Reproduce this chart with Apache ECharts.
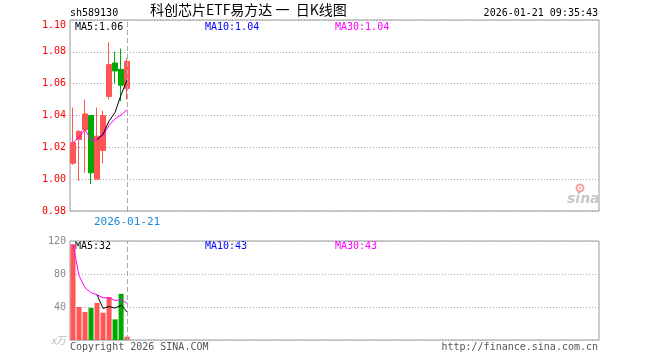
<!DOCTYPE html>
<html>
<head>
<meta charset="utf-8">
<script src="https://cdn.jsdelivr.net/npm/echarts@6/dist/echarts.min.js"></script>
<style>html,body{margin:0;padding:0;background:#fff;}#c{width:660px;height:360px;}</style>
</head>
<body>
<div id="c"></div>
<script>
// ---- data ----
const dates  = ['2026-01-08','2026-01-09','2026-01-12','2026-01-13','2026-01-14','2026-01-15','2026-01-16','2026-01-19','2026-01-20','2026-01-21'];
const opens  = [1.010, 1.025, 1.031, 1.040, 1.000, 1.018, 1.052, 1.073, 1.069, 1.057];
const closes = [1.023, 1.030, 1.041, 1.004, 1.027, 1.040, 1.072, 1.068, 1.059, 1.074];
const lows   = [1.009, 0.999, 1.004, 0.997, 1.000, 1.010, 1.050, 1.060, 1.049, 1.050];
const highs  = [1.045, 1.031, 1.050, 1.040, 1.045, 1.043, 1.086, 1.080, 1.082, 1.076];
const priceMA5  = [null, null, null, null, 1.0249, 1.0283, 1.0366, 1.0420, 1.0530, 1.0624];
const priceMA30 = [1.0230, 1.0265, 1.0313, 1.0245, 1.0249, 1.0274, 1.0338, 1.0380, 1.0403, 1.0436];
const volumes = [116, 40, 34, 39, 45, 33, 52, 25, 56, 4];
const volMA5  = [null, null, null, null, 54.8, 38.3, 40.6, 38.7, 42.1, 34.0];
const volMA30 = [116, 78, 63.4, 57.3, 54.8, 51.1, 51.2, 47.9, 48.8, 44.4];
const priceTicks = { min: 0.98, max: 1.10, interval: 0.02 };
const volTicks = { min: 0, max: 120, interval: 40 };
const priceLegend = ['MA5:1.06', 'MA10:1.04', 'MA30:1.04'];
const volLegend = ['MA5:32', 'MA10:43', 'MA30:43'];
const slotCount = 88;

// ---- chart ----
const RED = '#ff5555', GREEN = '#00a800';
const MONO = '"DejaVu Sans Mono", "Liberation Mono", monospace';
const lastDate = dates[dates.length - 1];
const cats = dates.concat(Array.from({length: slotCount - dates.length}, (_, i) => '_' + i));
const kData = dates.map((d, i) => [opens[i], closes[i], lows[i], highs[i]]);
const volData = volumes.map((v, i) => ({
  value: v,
  itemStyle: { color: closes[i] >= opens[i] ? RED : GREEN }
}));

const chart = echarts.init(document.getElementById('c'), null, { renderer: 'canvas' });

const cursorLine = {
  silent: true,
  symbol: ['none', 'none'],
  label: { show: false },
  lineStyle: { color: '#aaa', type: [5, 3], width: 1 },
  data: [{ xAxis: lastDate }]
};

const gridBase = { left: 70, right: 61, show: true, borderColor: '#999', borderWidth: 1, backgroundColor: 'transparent' };

chart.setOption({
  animation: false,
  backgroundColor: '#fff',
  grid: [
    Object.assign({ top: 20, height: 191 }, gridBase),
    Object.assign({ top: 241, height: 99 }, gridBase)
  ],
  xAxis: [
    {
      type: 'category', gridIndex: 0, data: cats, boundaryGap: true,
      axisLine: { show: false },
      axisTick: { show: true, inside: true, length: 3, alignWithLabel: true,
        interval: (i, v) => v === lastDate, lineStyle: { color: '#999' } },
      axisLabel: { show: true, interval: (i, v) => v === lastDate,
        color: '#1a8ad6', fontFamily: MONO, fontSize: 11, margin: 6 },
      splitLine: { show: false }
    },
    {
      type: 'category', gridIndex: 1, data: cats, boundaryGap: true,
      axisLine: { show: false }, axisTick: { show: false }, axisLabel: { show: false },
      splitLine: { show: false }
    }
  ],
  yAxis: [
    {
      type: 'value', gridIndex: 0, min: priceTicks.min, max: priceTicks.max, interval: priceTicks.interval,
      axisLine: { show: false }, axisTick: { show: false },
      axisLabel: { color: '#ff0000', fontFamily: MONO, fontSize: 10, margin: 4,
        formatter: v => v.toFixed(2), verticalAlignMaxLabel: 'top' },
      splitLine: { show: true, lineStyle: { color: '#aaa', type: [1, 2], width: 1 } }
    },
    {
      type: 'value', gridIndex: 1, min: volTicks.min, max: volTicks.max, interval: volTicks.interval,
      axisLine: { show: false }, axisTick: { show: false },
      axisLabel: { color: '#888', fontFamily: MONO, fontSize: 10, margin: 4,
        formatter: v => v === 0 ? '{u|x万}' : String(v),
        rich: { u: { color: '#bbb', fontFamily: '"Noto Sans CJK SC", sans-serif', fontSize: 10, fontStyle: 'italic' } } },
      splitLine: { show: true, lineStyle: { color: '#aaa', type: [1, 2], width: 1 } }
    }
  ],
  series: [
    {
      type: 'candlestick', xAxisIndex: 0, yAxisIndex: 0, data: kData, barWidth: 5,
      itemStyle: { color: RED, color0: GREEN, borderColor: RED, borderColor0: GREEN, borderWidth: 1 },
      markLine: cursorLine
    },
    {
      type: 'line', xAxisIndex: 0, yAxisIndex: 0, data: priceMA30, showSymbol: false, symbol: 'none',
      lineStyle: { color: '#ff00ff', width: 1 }, z: 3
    },
    {
      type: 'line', xAxisIndex: 0, yAxisIndex: 0, data: priceMA5, showSymbol: false, symbol: 'none',
      lineStyle: { color: '#000', width: 1 }, z: 4
    },
    {
      type: 'bar', xAxisIndex: 1, yAxisIndex: 1, data: volData, barWidth: 5,
      markLine: cursorLine
    },
    {
      type: 'line', xAxisIndex: 1, yAxisIndex: 1, data: volMA30, showSymbol: false, symbol: 'none',
      lineStyle: { color: '#ff00ff', width: 1 }, z: 3
    },
    {
      type: 'line', xAxisIndex: 1, yAxisIndex: 1, data: volMA5, showSymbol: false, symbol: 'none',
      lineStyle: { color: '#000', width: 1 }, z: 4
    }
  ],
  graphic: [
    { type: 'text', left: 70, top: 8, style: { text: 'sh589130', fill: '#000', font: '10px ' + MONO } },
    { type: 'text', left: 150, top: 3, style: { text: '科创芯片ETF易方达 一  日K线图', fill: '#000', font: '14px "Noto Sans CJK SC", sans-serif' } },
    { type: 'text', right: 62, top: 8, style: { text: '2026-01-21 09:35:43', fill: '#000', font: '10px ' + MONO, textAlign: 'right' } },
    { type: 'text', left: 75, top: 22, style: { text: priceLegend[0], fill: '#000', font: '10px ' + MONO } },
    { type: 'text', left: 205, top: 22, style: { text: priceLegend[1], fill: '#0000ff', font: '10px ' + MONO } },
    { type: 'text', left: 335, top: 22, style: { text: priceLegend[2], fill: '#ff00ff', font: '10px ' + MONO } },
    { type: 'text', left: 75, top: 241, style: { text: volLegend[0], fill: '#000', font: '10px ' + MONO } },
    { type: 'text', left: 205, top: 241, style: { text: volLegend[1], fill: '#0000ff', font: '10px ' + MONO } },
    { type: 'text', left: 335, top: 241, style: { text: volLegend[2], fill: '#ff00ff', font: '10px ' + MONO } },
    { type: 'text', left: 70, top: 342, style: { text: 'Copyright 2026 SINA.COM', fill: '#555', font: '10px ' + MONO } },
    { type: 'text', right: 62, top: 342, style: { text: 'http://finance.sina.com.cn', fill: '#555', font: '10px ' + MONO } },
    // sina watermark
    { type: 'text', left: 567, top: 192, style: { text: 'sina', fill: '#c8c8c8', font: 'italic bold 14px "DejaVu Sans", sans-serif' } },
    { type: 'circle', shape: { cx: 580, cy: 188, r: 3.5 }, style: { fill: 'none', stroke: '#f4a0a0', lineWidth: 2 } },
    { type: 'circle', shape: { cx: 580, cy: 188, r: 1.2 }, style: { fill: '#f4a0a0' } }
  ]
});
</script>
</body>
</html>
